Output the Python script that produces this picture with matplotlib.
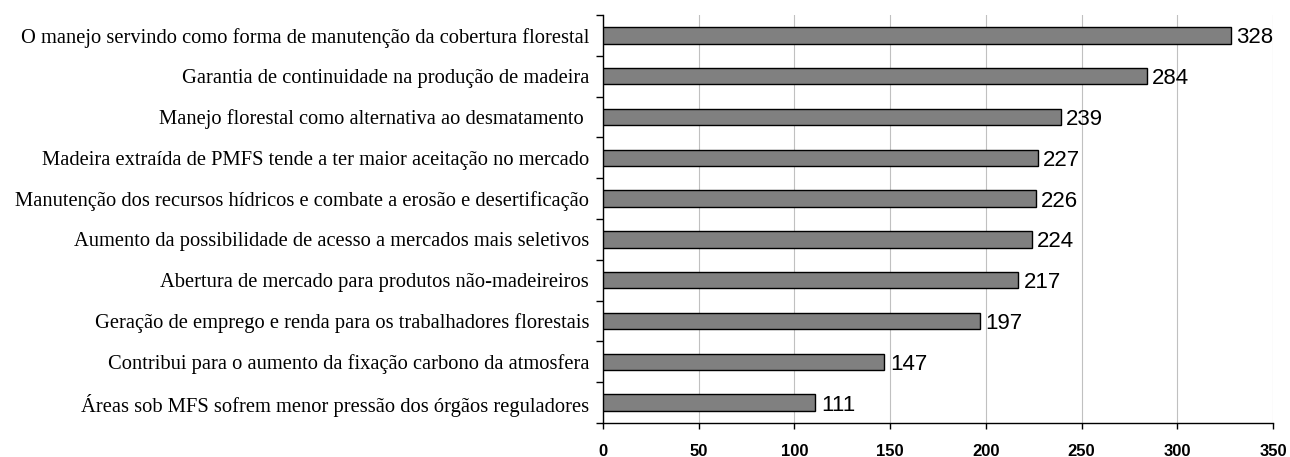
import matplotlib
matplotlib.use('Agg')
import matplotlib.pyplot as plt
import numpy as np

categories = [
    'O manejo servindo como forma de manutenção da cobertura florestal',
    'Garantia de continuidade na produção de madeira',
    'Manejo florestal como alternativa ao desmatamento ',
    'Madeira extraída de PMFS tende a ter maior aceitação no mercado',
    'Manutenção dos recursos hídricos e combate a erosão e desertificação',
    'Aumento da possibilidade de acesso a mercados mais seletivos',
    'Abertura de mercado para produtos não-madeireiros',
    'Geração de emprego e renda para os trabalhadores florestais',
    'Contribui para o aumento da fixação carbono da atmosfera',
    'Áreas sob MFS sofrem menor pressão dos órgãos reguladores',
]
values = [328, 284, 239, 227, 226, 224, 217, 197, 147, 111]
xticks = [0, 50, 100, 150, 200, 250, 300, 350]

fig = plt.figure(figsize=(12.9, 4.57), dpi=100)
ax = fig.add_axes([603 / 1290, 34 / 457, 670 / 1290, 408 / 457])

y = np.arange(len(values))[::-1]
ax.barh(y, values, height=0.4, color='#808080', edgecolor='black', linewidth=1.0, zorder=3)

for yi, v in zip(y, values):
    ax.text(v + 2.8, yi, str(v), va='center_baseline', ha='left',
            fontsize=16, family='Liberation Sans', zorder=4)

ax.set_xlim(0, 350)
ax.set_ylim(-0.5, len(values) - 0.5)
ax.set_xticks(xticks)
ax.set_xticklabels([str(t) for t in xticks], fontsize=12, fontweight='bold',
                   family='Liberation Sans')
ax.set_yticks(y)
ax.set_yticklabels(categories, fontsize=14.8, family='Liberation Serif')
ax.set_yticks(np.arange(-0.5, len(values)), minor=True)
ax.tick_params(axis='y', which='major', length=0, pad=10)
ax.tick_params(axis='y', which='minor', length=5, width=1, direction='out')
ax.tick_params(axis='x', length=4, width=1, direction='out', pad=11)

ax.xaxis.grid(True, color='#c0c0c0', linewidth=0.8, zorder=0)
ax.set_axisbelow(True)
for s in ['top', 'right']:
    ax.spines[s].set_visible(False)
ax.spines['left'].set_linewidth(1)
ax.spines['bottom'].set_linewidth(1)

fig.savefig('out.png', dpi=100)
